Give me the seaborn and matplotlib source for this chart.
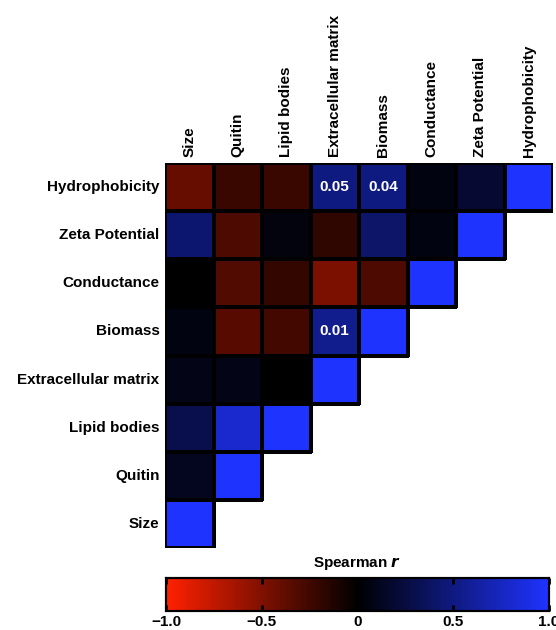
import numpy as np
import pandas as pd
import matplotlib
matplotlib.use("Agg")
import matplotlib.pyplot as plt
import seaborn as sns
from matplotlib.colors import LinearSegmentedColormap

rows = ["Hydrophobicity", "Zeta Potential", "Conductance", "Biomass",
        "Extracellular matrix", "Lipid bodies", "Quitin", "Size"]
cols = ["Size", "Quitin", "Lipid bodies", "Extracellular matrix",
        "Biomass", "Conductance", "Zeta Potential", "Hydrophobicity"]

hydrophobicity = [-0.40, -0.22, -0.22, 0.50, 0.50, 0.07, 0.20, 1.0]
zeta_potential = [0.43, -0.30, 0.05, -0.18, 0.40, 0.07, 1.0]
conductance = [0.0, -0.32, -0.20, -0.48, -0.30, 1.0]
biomass = [0.07, -0.34, -0.26, 0.55, 1.0]
extracellular = [0.08, 0.08, 0.0, 1.0]
lipid_bodies = [0.30, 0.80, 1.0]
quitin = [0.12, 1.0]
size = [1.0]

# p-values written on the significant cells: (row, column, text)
pvals = [("Hydrophobicity", "Extracellular matrix", "0.05"),
         ("Hydrophobicity", "Biomass", "0.04"),
         ("Biomass", "Extracellular matrix", "0.01")]

series = [hydrophobicity, zeta_potential, conductance, biomass,
          extracellular, lipid_bodies, quitin, size]
mat = np.full((len(rows), len(cols)), np.nan)
for i, vals in enumerate(series):
    mat[i, :len(vals)] = vals
df = pd.DataFrame(mat, index=rows, columns=cols)
mask = df.isna()

annot = pd.DataFrame("", index=rows, columns=cols)
for r, c, t in pvals:
    annot.loc[r, c] = t

cmap = LinearSegmentedColormap.from_list(
    "rkb", [(1.0, 0.13, 0.0), (0.0, 0.0, 0.0), (0.12, 0.2, 1.0)])

plt.rcParams['font.family'] = ['Liberation Sans', 'DejaVu Sans']
fs = 11

fig = plt.figure(figsize=(5.56, 6.3), dpi=100)
ax = fig.add_axes([165 / 556, 1 - 548 / 630, 388 / 556, 385 / 630])
cax = fig.add_axes([166 / 556, 1 - 611 / 630, 383 / 556, 33 / 630])

sns.heatmap(df, mask=mask, cmap=cmap, vmin=-1, vmax=1, annot=annot, fmt="",
            annot_kws={"color": "white", "fontsize": fs, "fontweight": "bold"},
            linewidths=1.5, linecolor="black", ax=ax, cbar_ax=cax,
            cbar_kws={"orientation": "horizontal", "ticks": [-1, -0.5, 0, 0.5, 1]})

# no cell borders on the empty (masked) half
mesh = ax.collections[0]
edges = [(0, 0, 0, 0) if m else (0, 0, 0, 1) for m in mask.values.ravel()]
mesh.set_edgecolor(edges)

ax.xaxis.tick_top()
ax.set_xticklabels(cols, rotation=90, fontsize=fs, fontweight="bold")
ax.set_yticklabels(rows, rotation=0, fontsize=fs, fontweight="bold")
ax.tick_params(length=0, pad=4)
ax.set_xlabel("")
ax.set_ylabel("")

cax.set_xticklabels(["\u22121.0", "\u22120.5", "0", "0.5", "1.0"],
                    fontsize=fs, fontweight="bold")
cax.tick_params(direction="in", length=4, width=2, top=True, pad=3)
for sp in cax.spines.values():
    sp.set_visible(True)
    sp.set_linewidth(1.5)
cax.set_title("Spearman $\\bfit{r}$", fontsize=fs, fontweight="bold", pad=8)

fig.savefig("out.png", dpi=100)
